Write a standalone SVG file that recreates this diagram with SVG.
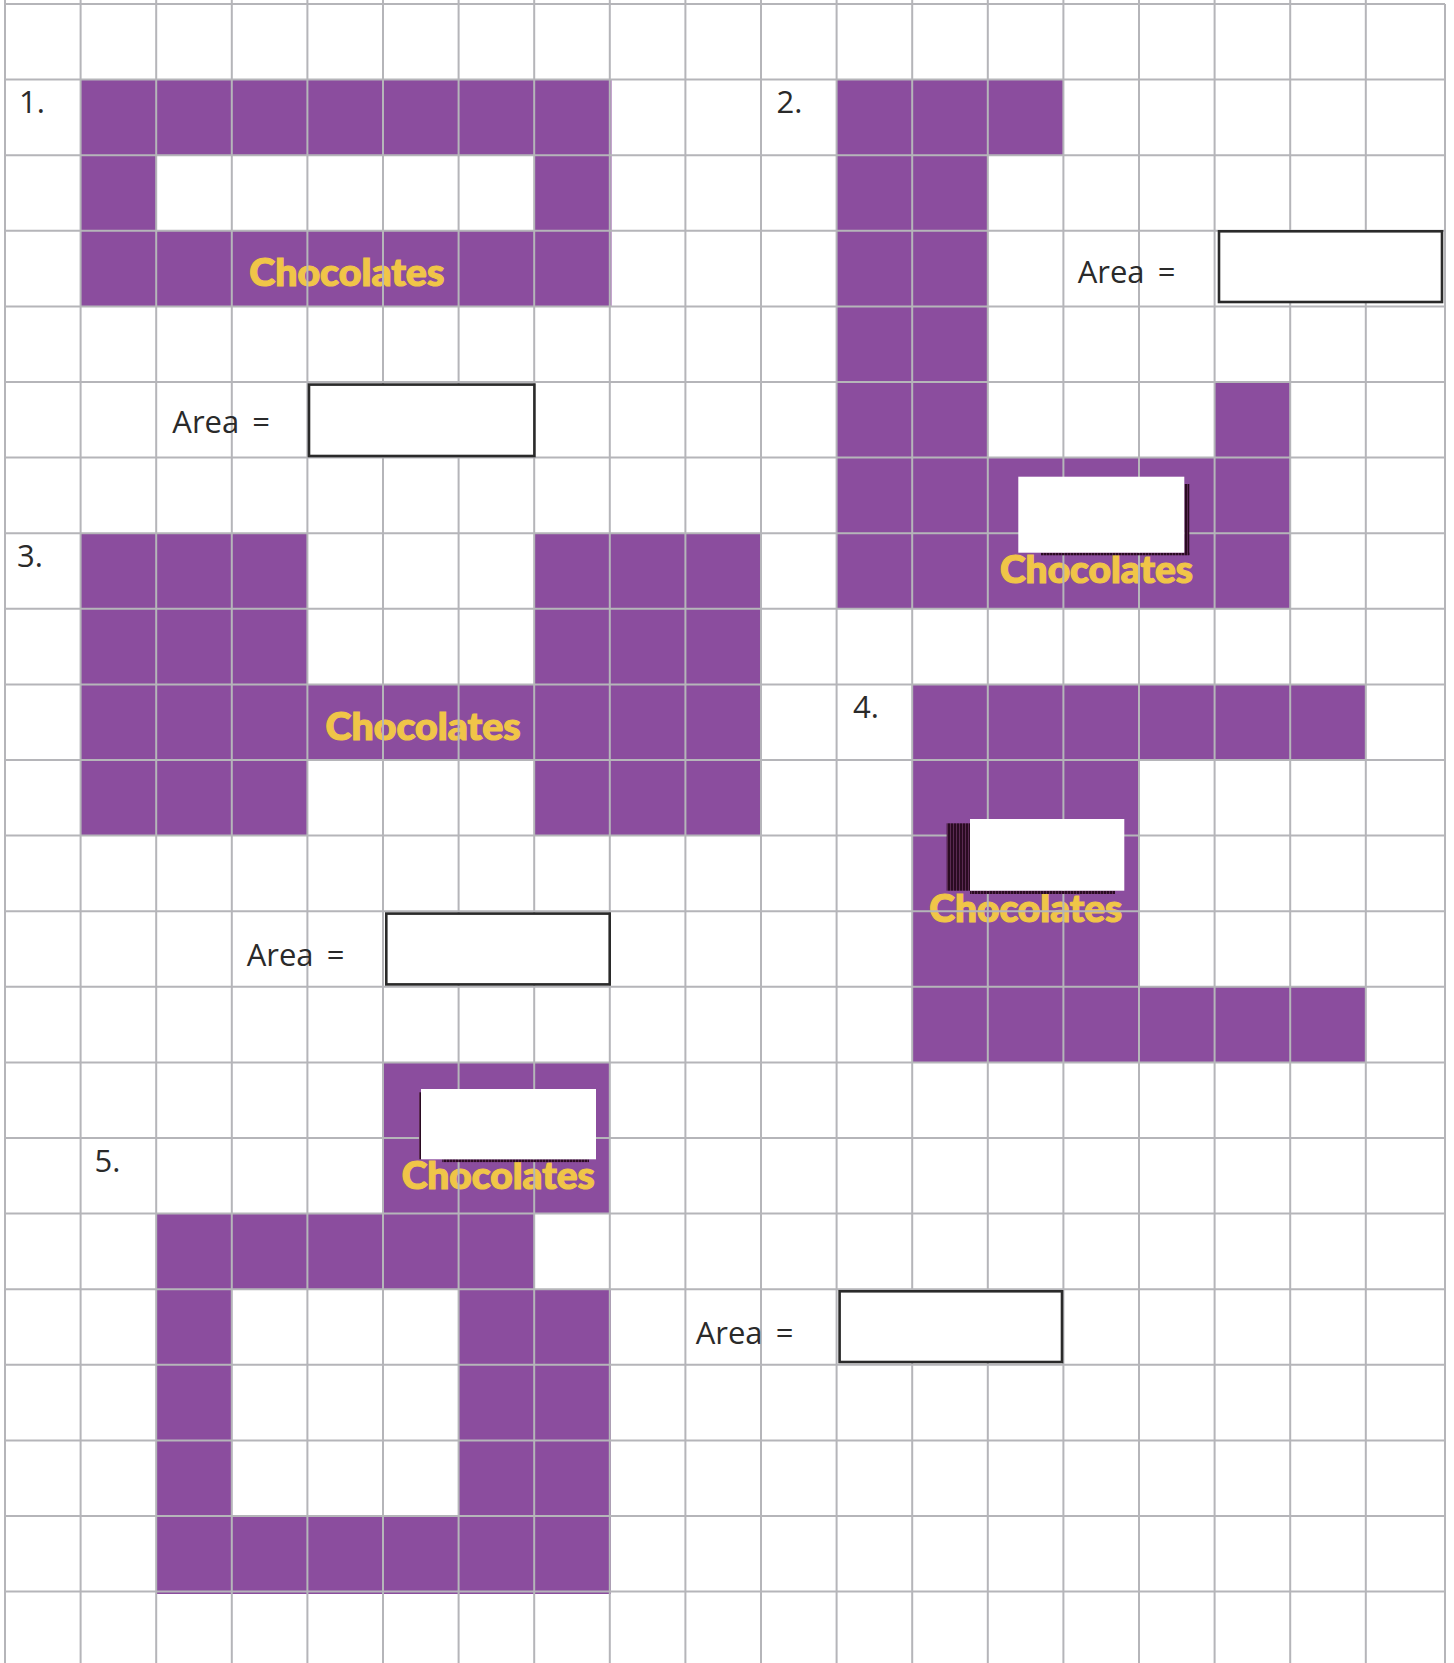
<svg xmlns="http://www.w3.org/2000/svg" width="1454" height="1663" viewBox="0 0 1454 1663">
<style>
.choc{fill:#8b4d9e}
.lbl{font-family:"Open Sans","Noto Sans",sans-serif;font-size:31px;fill:#2a2a2a}
.ar{word-spacing:5px}
.ct{font-family:Lato,"Open Sans",sans-serif;font-weight:900;font-size:37px;fill:#f0c548;stroke:#f0c548;stroke-width:1.2}
.grid{stroke:#b5b5b9;stroke-width:2;fill:none}
.box{fill:#fff;stroke:#2a2a2a;stroke-width:2.6}
.sh{fill:url(#stripe)}
</style>
<defs>
<pattern id="stripe" patternUnits="userSpaceOnUse" width="3" height="3">
<rect width="3" height="3" fill="#2a0b22"/>
<rect x="2" width="1" height="3" fill="#5a2a52"/>
</pattern>
</defs>
<rect width="1454" height="1663" fill="#fff"/>

<g id="shape1">
<path class="choc" fill-rule="evenodd" d="M80.6 79.6H611.5V306.4H80.6Z M156.2 155.2H534.2V230.8H156.2Z"/>
<text class="ct" x="249.3" y="285.7" textLength="195" lengthAdjust="spacingAndGlyphs">Chocolates</text>
</g>
<g id="shape2">
<path class="choc" d="M836.6 79.6H1063.4V155.2H987.8V457.6H1214.6V382H1290.2V608.8H836.6Z"/>
<text class="ct" x="1000" y="582.7" textLength="193" lengthAdjust="spacingAndGlyphs">Chocolates</text>
</g>
<g id="shape3">
<path class="choc" d="M80.6 533.2H307.4V684.4H534.2V533.2H761V835.6H534.2V760H307.4V835.6H80.6Z"/>
<text class="ct" x="325.6" y="740" textLength="195" lengthAdjust="spacingAndGlyphs">Chocolates</text>
</g>
<g id="shape4">
<path class="choc" d="M912.2 684.4H1365.8V760H1139V986.8H1365.8V1062.4H912.2Z"/>
<text class="ct" x="929.3" y="921.7" textLength="193" lengthAdjust="spacingAndGlyphs">Chocolates</text>
</g>
<g id="shape5">
<path class="choc" fill-rule="evenodd" d="M383 1062.4H609.8V1213.6H534.2V1289.2H611V1594H156.2V1213.6H383Z M231.8 1289.2H458.6V1516H231.8Z"/>
<text class="ct" x="401.7" y="1189" textLength="193" lengthAdjust="spacingAndGlyphs">Chocolates</text>
</g>

<g id="grid" class="grid">
<path d="M5 0V1663M80.6 0V1663M156.2 0V1663M231.8 0V1663M307.4 0V1663M383 0V1663M458.6 0V1663M534.2 0V1663M609.8 0V1663M685.4 0V1663M761 0V1663M836.6 0V1663M912.2 0V1663M987.8 0V1663M1063.4 0V1663M1139 0V1663M1214.6 0V1663M1290.2 0V1663M1365.8 0V1663M1445 4V1663"/>
<path d="M5 4H1445M5 79.6H1445M5 155.2H1445M5 230.8H1445M5 306.4H1445M5 382H1445M5 457.6H1445M5 533.2H1445M5 608.8H1445M5 684.4H1445M5 760H1445M5 835.6H1445M5 911.2H1445M5 986.8H1445M5 1062.4H1445M5 1138H1445M5 1213.6H1445M5 1289.2H1445M5 1364.8H1445M5 1440.4H1445M5 1516H1445M5 1591.6H1445"/>
</g>

<g id="tag2">
<rect class="sh" x="1184.3" y="484" width="5" height="71"/>
<rect class="sh" x="1041" y="552.7" width="148.3" height="2.6"/>
<rect x="1018.3" y="476.7" width="166" height="76" fill="#fff"/>
</g>
<g id="tag4">
<rect class="sh" x="946.7" y="823.3" width="23.3" height="67.4"/>
<rect class="sh" x="970" y="890.7" width="145" height="3.3"/>
<rect x="970" y="819" width="154.3" height="71.7" fill="#fff"/>
</g>
<g id="tag5">
<rect class="sh" x="419" y="1092.3" width="2.5" height="67"/>
<rect class="sh" x="442.3" y="1159.3" width="146.7" height="2.8"/>
<rect x="421" y="1089" width="175" height="70.3" fill="#fff"/>
</g>

<g id="labels">
<text class="lbl" x="19" y="113.3">1.</text>
<text class="lbl" x="776.5" y="113.3">2.</text>
<text class="lbl" x="17" y="567">3.</text>
<text class="lbl" x="853" y="718">4.</text>
<text class="lbl" x="94.5" y="1172">5.</text>
</g>

<g id="area1">
<text class="lbl ar" x="172.3" y="433.3">Area =</text>
<rect class="box" x="309" y="384.6" width="225.4" height="71.4"/>
</g>
<g id="area2">
<text class="lbl ar" x="1077.7" y="283.3">Area =</text>
<rect class="box" x="1219" y="231.3" width="223" height="70.7"/>
</g>
<g id="area3">
<text class="lbl ar" x="246.7" y="965.7">Area =</text>
<rect class="box" x="386.3" y="913.6" width="223.4" height="70.8"/>
</g>
<g id="area5">
<text class="lbl ar" x="695.7" y="1344.3">Area =</text>
<rect class="box" x="839.6" y="1291.3" width="222.4" height="70.7"/>
</g>
</svg>
